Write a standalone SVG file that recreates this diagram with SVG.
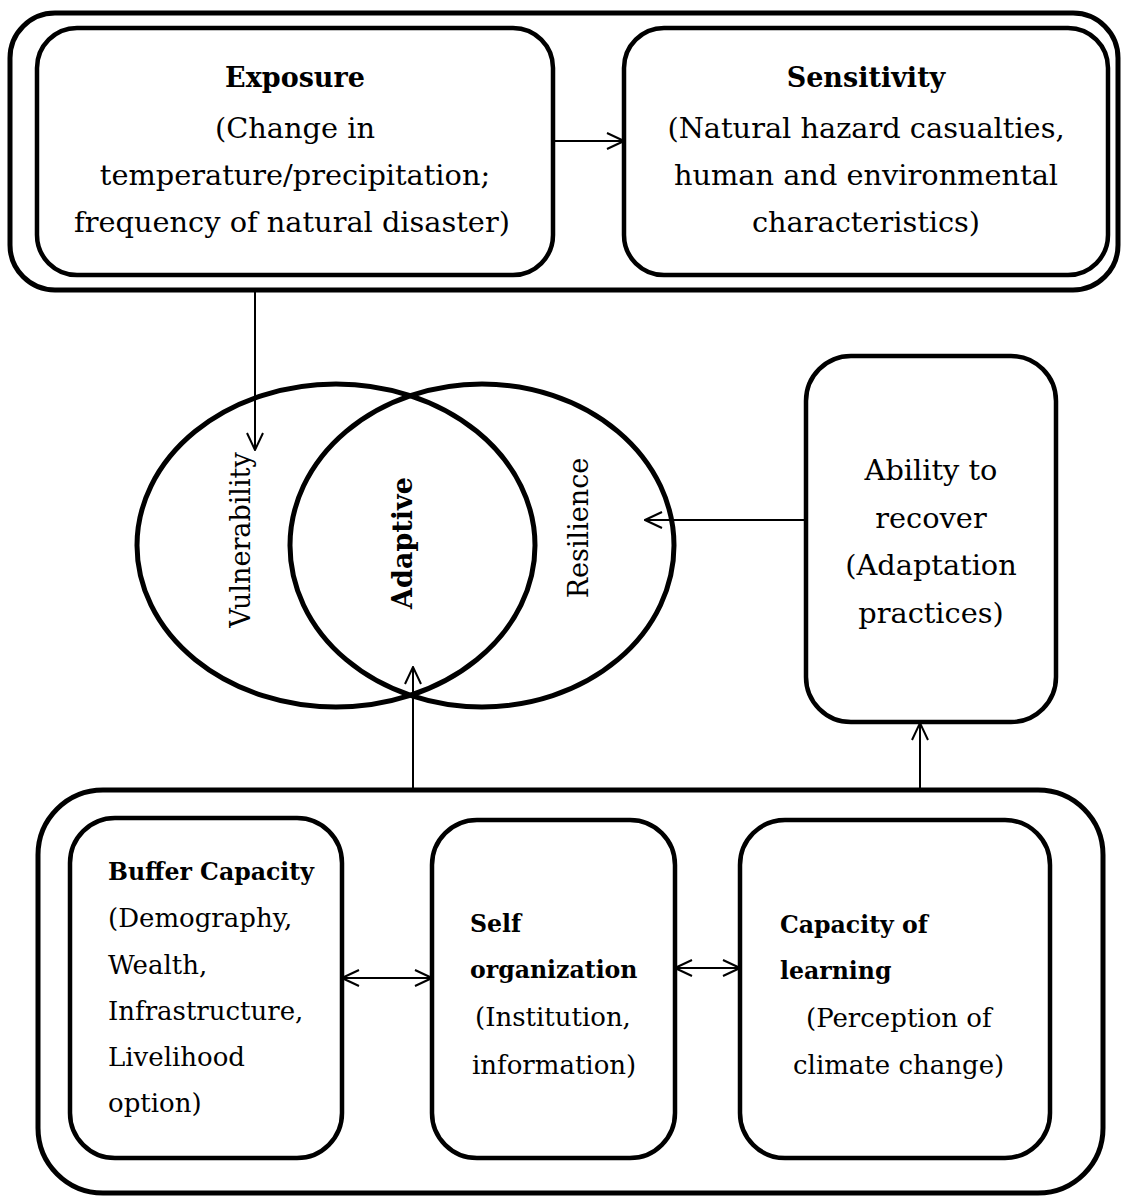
<svg xmlns="http://www.w3.org/2000/svg" width="1121" height="1201" viewBox="0 0 1121 1201">
<style>
.box{fill:#fff;stroke:#000;stroke-width:4.5}
.outer{fill:none;stroke:#000;stroke-width:5}
.ell{fill:none;stroke:#000;stroke-width:5}
.t{font-family:"DejaVu Serif","Liberation Serif",serif;font-size:28.8px;fill:#000}
.tb{font-family:"DejaVu Serif","Liberation Serif",serif;font-size:27px;font-weight:bold;fill:#000}
.v{font-family:"DejaVu Serif","Liberation Serif",serif;font-size:27px;fill:#000}
.s{font-family:"DejaVu Serif","Liberation Serif",serif;font-size:26px;fill:#000}
.sb{font-family:"DejaVu Serif","Liberation Serif",serif;font-size:23.6px;font-weight:bold;fill:#000}
.c{text-anchor:middle}
.con line{stroke:#000;stroke-width:2}
</style>
<defs>
<marker id="ah" viewBox="0 0 20 20" refX="19" refY="10" markerWidth="20" markerHeight="20" markerUnits="userSpaceOnUse" orient="auto-start-reverse">
<path d="M2,2 L19,10 L2,18" fill="none" stroke="#000" stroke-width="2"/>
</marker>
</defs>
<rect x="0" y="0" width="1121" height="1201" fill="#fff"/>
<g id="top-group">
<rect class="outer" x="10" y="13" width="1108" height="277" rx="45"/>
</g>
<g id="exposure">
<rect class="box" x="37" y="28" width="516" height="247" rx="40"/>
<text class="tb c" x="295" y="87">Exposure</text>
<text class="t c" x="295" y="138">(Change in</text>
<text class="t c" x="295" y="185">temperature/precipitation;</text>
<text class="t c" x="292" y="232">frequency of natural disaster)</text>
</g>
<g id="sensitivity">
<rect class="box" x="624" y="28" width="484" height="247" rx="40"/>
<text class="tb c" x="866" y="87">Sensitivity</text>
<text class="t c" x="866" y="138">(Natural hazard casualties,</text>
<text class="t c" x="866" y="185">human and environmental</text>
<text class="t c" x="866" y="232">characteristics)</text>
</g>
<g id="vulnerability">
<ellipse class="ell" cx="336" cy="545.5" rx="199" ry="161.5"/>
<text class="v c" transform="translate(250,540) rotate(-90)">Vulnerability</text>
</g>
<g id="resilience">
<ellipse class="ell" cx="482" cy="545.5" rx="192" ry="161.5"/>
<text class="v c" transform="translate(588,528) rotate(-90)">Resilience</text>
</g>
<g id="adaptive">
<text class="tb c" transform="translate(412,543) rotate(-90)">Adaptive</text>
</g>
<g id="ability">
<rect class="box" x="806" y="356" width="250" height="366" rx="45"/>
<text class="t c" x="931" y="480">Ability to</text>
<text class="t c" x="931" y="528">recover</text>
<text class="t c" x="931" y="575">(Adaptation</text>
<text class="t c" x="931" y="623">practices)</text>
</g>
<g id="bottom-group">
<rect class="outer" x="38" y="790" width="1065" height="403" rx="65"/>
</g>
<g id="buffer">
<rect class="box" x="70" y="818" width="272" height="340" rx="45"/>
<text class="sb" x="108" y="880">Buffer Capacity</text>
<text class="s" x="108" y="927">(Demography,</text>
<text class="s" x="108" y="974">Wealth,</text>
<text class="s" x="108" y="1020">Infrastructure,</text>
<text class="s" x="108" y="1066">Livelihood</text>
<text class="s" x="108" y="1112">option)</text>
</g>
<g id="self-organization">
<rect class="box" x="432" y="820" width="243" height="338" rx="45"/>
<text class="sb" x="470" y="932">Self</text>
<text class="sb" x="470" y="978">organization</text>
<text class="s" x="475" y="1026">(Institution,</text>
<text class="s" x="472" y="1074">information)</text>
</g>
<g id="capacity-learning">
<rect class="box" x="740" y="820" width="310" height="338" rx="45"/>
<text class="sb" x="780" y="933">Capacity of</text>
<text class="sb" x="780" y="979">learning</text>
<text class="s" x="806" y="1027">(Perception of</text>
<text class="s" x="793" y="1074">climate change)</text>
</g>
<g id="connectors" class="con">
<line x1="553" y1="141" x2="624" y2="141" marker-end="url(#ah)"/>
<line x1="255" y1="290" x2="255" y2="450" marker-end="url(#ah)"/>
<line x1="806" y1="520" x2="645" y2="520" marker-end="url(#ah)"/>
<line x1="413" y1="790" x2="413" y2="667" marker-end="url(#ah)"/>
<line x1="920" y1="790" x2="920" y2="723" marker-end="url(#ah)"/>
<line x1="342" y1="978" x2="432" y2="978" marker-start="url(#ah)" marker-end="url(#ah)"/>
<line x1="675" y1="968" x2="740" y2="968" marker-start="url(#ah)" marker-end="url(#ah)"/>
</g>
</svg>
